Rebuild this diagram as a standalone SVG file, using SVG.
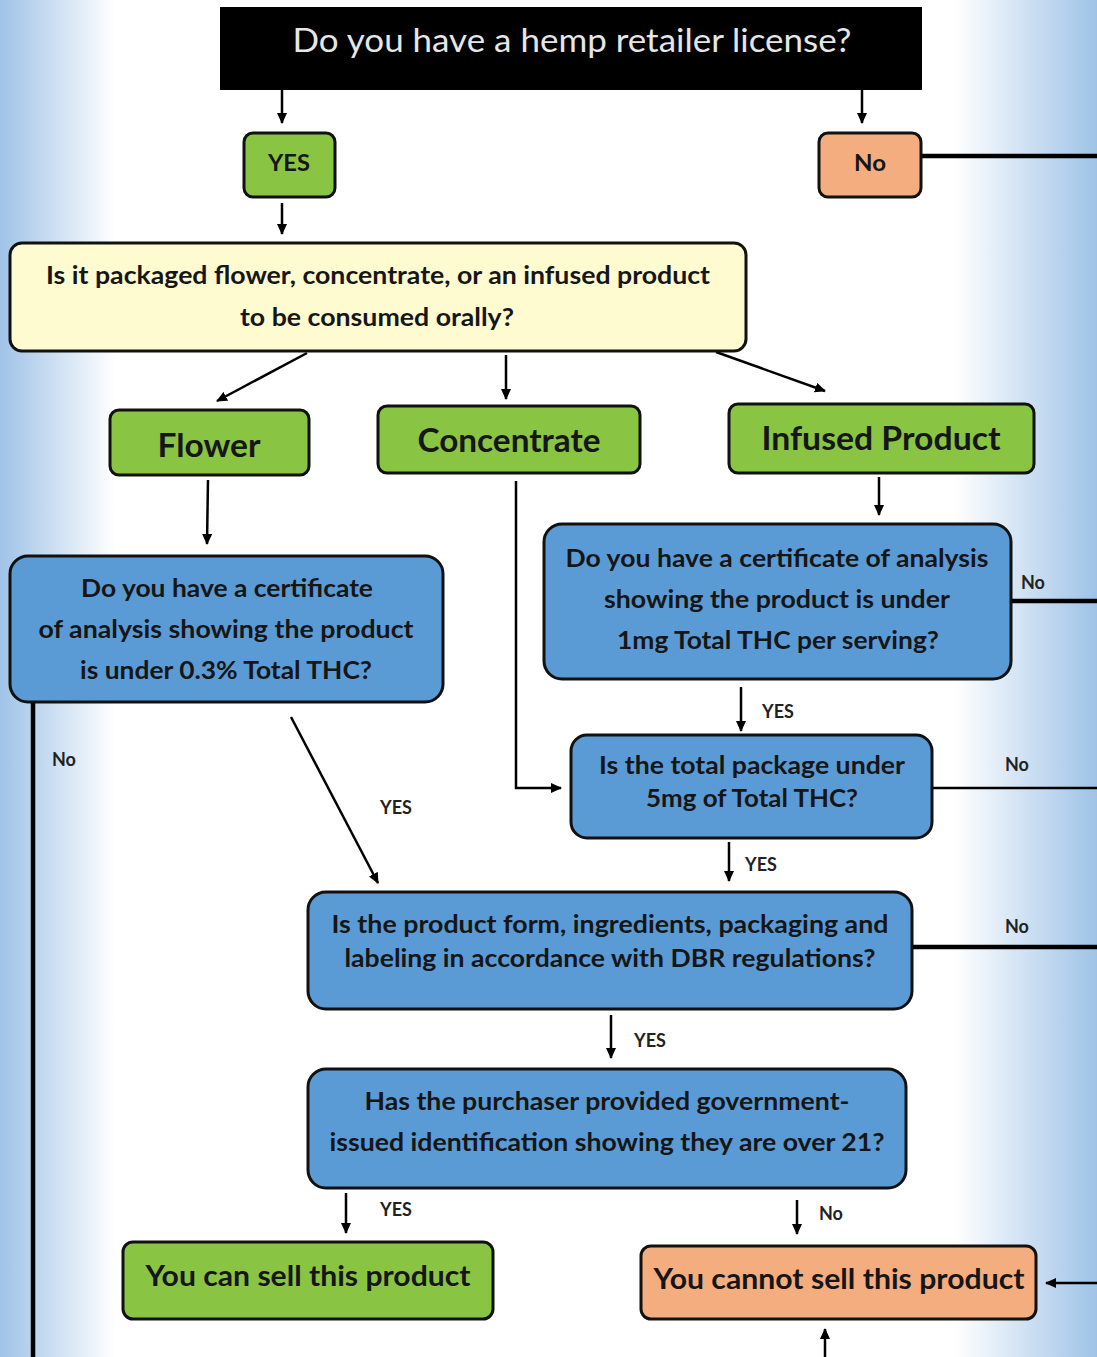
<svg xmlns="http://www.w3.org/2000/svg" width="1097" height="1357" viewBox="0 0 1097 1357">
<defs>
<linearGradient id="bg" x1="0" y1="0" x2="1" y2="0">
<stop offset="0" stop-color="#9fc3e7"/>
<stop offset="0.105" stop-color="#ffffff"/>
<stop offset="0.87" stop-color="#ffffff"/>
<stop offset="1" stop-color="#9fc3e7"/>
</linearGradient>
<marker id="ah" markerWidth="11" markerHeight="10" refX="10" refY="5" orient="auto" markerUnits="userSpaceOnUse">
<path d="M0,0 L11,5 L0,10 z" fill="#000"/>
</marker>
<style>
.t{font-family:Lato,"Open Sans","Liberation Sans",sans-serif;font-weight:700;fill:#161616;text-anchor:middle}
.lab{font-family:Lato,"Open Sans","Liberation Sans",sans-serif;font-weight:700;fill:#222;font-size:18px}
.g{fill:#89c443;stroke:#111;stroke-width:3}
.o{fill:#f4ad7f;stroke:#111;stroke-width:3}
.b{fill:#5b9bd5;stroke:#111;stroke-width:3}
.y{fill:#fefbd1;stroke:#111;stroke-width:3}
.a{stroke:#000;stroke-width:2.5;fill:none}
.k{stroke:#000;stroke-width:4.5;fill:none}
</style>
</defs>
<rect x="0" y="0" width="1097" height="1357" fill="url(#bg)"/>

<g id="connectors">
<line class="a" x1="282" y1="90" x2="282" y2="123" marker-end="url(#ah)"/>
<line class="a" x1="862" y1="90" x2="862" y2="123" marker-end="url(#ah)"/>
<line class="k" x1="921" y1="156" x2="1097" y2="156"/>
<line class="a" x1="282" y1="203" x2="282" y2="234" marker-end="url(#ah)"/>
<line class="a" x1="307" y1="353" x2="217" y2="401" marker-end="url(#ah)"/>
<line class="a" x1="506" y1="355" x2="506" y2="399" marker-end="url(#ah)"/>
<line class="a" x1="716" y1="352" x2="825" y2="391" marker-end="url(#ah)"/>
<line class="a" x1="208" y1="480" x2="207" y2="544" marker-end="url(#ah)"/>
<polyline class="a" points="516,481 516,788 561,788" stroke-width="3.5" marker-end="url(#ah)"/>
<line class="a" x1="879" y1="477" x2="879" y2="515" marker-end="url(#ah)"/>
<line class="k" x1="1011" y1="601" x2="1097" y2="601"/>
<line class="a" x1="741" y1="687" x2="741" y2="731" marker-end="url(#ah)"/>
<line class="a" x1="932" y1="788" x2="1097" y2="788" stroke-width="3"/>
<line class="a" x1="729" y1="842" x2="729" y2="881" marker-end="url(#ah)"/>
<line class="k" x1="33" y1="702" x2="33" y2="1357" stroke-width="5"/>
<line class="a" x1="291" y1="717" x2="378" y2="883" marker-end="url(#ah)"/>
<line class="k" x1="912" y1="947" x2="1097" y2="947"/>
<line class="a" x1="611" y1="1015" x2="611" y2="1058" marker-end="url(#ah)"/>
<line class="a" x1="346" y1="1193" x2="346" y2="1233" marker-end="url(#ah)"/>
<line class="a" x1="797" y1="1200" x2="797" y2="1234" marker-end="url(#ah)"/>
<line class="a" x1="1097" y1="1283" x2="1046" y2="1283" marker-end="url(#ah)"/>
<line class="a" x1="825" y1="1357" x2="825" y2="1329" marker-end="url(#ah)"/>
<text class="lab" x="1021" y="589">No</text>
<text class="lab" x="762" y="718">YES</text>
<text class="lab" x="1005" y="771">No</text>
<text class="lab" x="745" y="871">YES</text>
<text class="lab" x="1005" y="933">No</text>
<text class="lab" x="634" y="1047">YES</text>
<text class="lab" x="380" y="1216">YES</text>
<text class="lab" x="819" y="1220">No</text>
<text class="lab" x="52" y="766">No</text>
<text class="lab" x="380" y="814">YES</text>
</g>

<g id="q-license">
<rect x="220" y="7" width="702" height="83" fill="#000"/>
<text class="t" x="572" y="52" font-size="32" font-weight="400" style="font-weight:400;fill:#e6e6e6" textLength="559" lengthAdjust="spacingAndGlyphs">Do you have a hemp retailer license?</text>
</g>

<g id="yes-license">
<rect class="g" x="244" y="133" width="91" height="64" rx="9"/>
<text class="t" x="289" y="171" font-size="22" textLength="42" lengthAdjust="spacingAndGlyphs">YES</text>
</g>

<g id="no-license">
<rect class="o" x="819" y="133" width="102" height="64" rx="9"/>
<text class="t" x="870" y="171" font-size="22" textLength="32" lengthAdjust="spacingAndGlyphs">No</text>
</g>

<g id="q-type">
<rect class="y" x="10" y="243" width="736" height="108" rx="12"/>
<text class="t" x="378" y="284" font-size="24" textLength="664" lengthAdjust="spacingAndGlyphs">Is it packaged flower, concentrate, or an infused product</text>
<text class="t" x="377" y="326" font-size="24" textLength="274" lengthAdjust="spacingAndGlyphs">to be consumed orally?</text>
</g>

<g id="flower">
<rect class="g" x="110" y="410" width="199" height="65" rx="9"/>
<text class="t" x="209" y="457" font-size="32" textLength="103" lengthAdjust="spacingAndGlyphs">Flower</text>
</g>

<g id="concentrate">
<rect class="g" x="378" y="406" width="262" height="67" rx="9"/>
<text class="t" x="509" y="452" font-size="32" textLength="183" lengthAdjust="spacingAndGlyphs">Concentrate</text>
</g>

<g id="infused">
<rect class="g" x="729" y="404" width="305" height="69" rx="9"/>
<text class="t" x="881" y="450" font-size="32" textLength="239" lengthAdjust="spacingAndGlyphs">Infused Product</text>
</g>

<g id="q-flower-coa">
<rect class="b" x="10" y="556" width="433" height="146" rx="18"/>
<text class="t" x="227" y="597" font-size="24" textLength="292" lengthAdjust="spacingAndGlyphs">Do you have a certificate</text>
<text class="t" x="226" y="638" font-size="24" textLength="375" lengthAdjust="spacingAndGlyphs">of analysis showing the product</text>
<text class="t" x="226" y="679" font-size="24" textLength="292" lengthAdjust="spacingAndGlyphs">is under 0.3% Total THC?</text>
</g>

<g id="q-infused-coa">
<rect class="b" x="544" y="524" width="467" height="155" rx="18"/>
<text class="t" x="777" y="567" font-size="24" textLength="423" lengthAdjust="spacingAndGlyphs">Do you have a certificate of analysis</text>
<text class="t" x="777" y="608" font-size="24" textLength="346" lengthAdjust="spacingAndGlyphs">showing the product is under</text>
<text class="t" x="778" y="649" font-size="24" textLength="322" lengthAdjust="spacingAndGlyphs">1mg Total THC per serving?</text>
</g>

<g id="q-package">
<rect class="b" x="571" y="735" width="361" height="103" rx="16"/>
<text class="t" x="752" y="774" font-size="24" textLength="306" lengthAdjust="spacingAndGlyphs">Is the total package under</text>
<text class="t" x="752" y="807" font-size="24" textLength="212" lengthAdjust="spacingAndGlyphs">5mg of Total THC?</text>
</g>

<g id="q-dbr">
<rect class="b" x="308" y="892" width="604" height="117" rx="18"/>
<text class="t" x="610" y="933" font-size="24" textLength="557" lengthAdjust="spacingAndGlyphs">Is the product form, ingredients, packaging and</text>
<text class="t" x="610" y="967" font-size="24" textLength="531" lengthAdjust="spacingAndGlyphs">labeling in accordance with DBR regulations?</text>
</g>

<g id="q-id">
<rect class="b" x="308" y="1069" width="598" height="119" rx="18"/>
<text class="t" x="607" y="1110" font-size="24" textLength="485" lengthAdjust="spacingAndGlyphs">Has the purchaser provided government-</text>
<text class="t" x="607" y="1151" font-size="24" textLength="555" lengthAdjust="spacingAndGlyphs">issued identification showing they are over 21?</text>
</g>

<g id="can-sell">
<rect class="g" x="123" y="1242" width="370" height="77" rx="10"/>
<text class="t" x="308" y="1286" font-size="28" textLength="325" lengthAdjust="spacingAndGlyphs">You can sell this product</text>
</g>

<g id="cannot-sell">
<rect class="o" x="641" y="1246" width="395" height="73" rx="10"/>
<text class="t" x="839" y="1289" font-size="28" textLength="371" lengthAdjust="spacingAndGlyphs">You cannot sell this product</text>
</g>
</svg>
